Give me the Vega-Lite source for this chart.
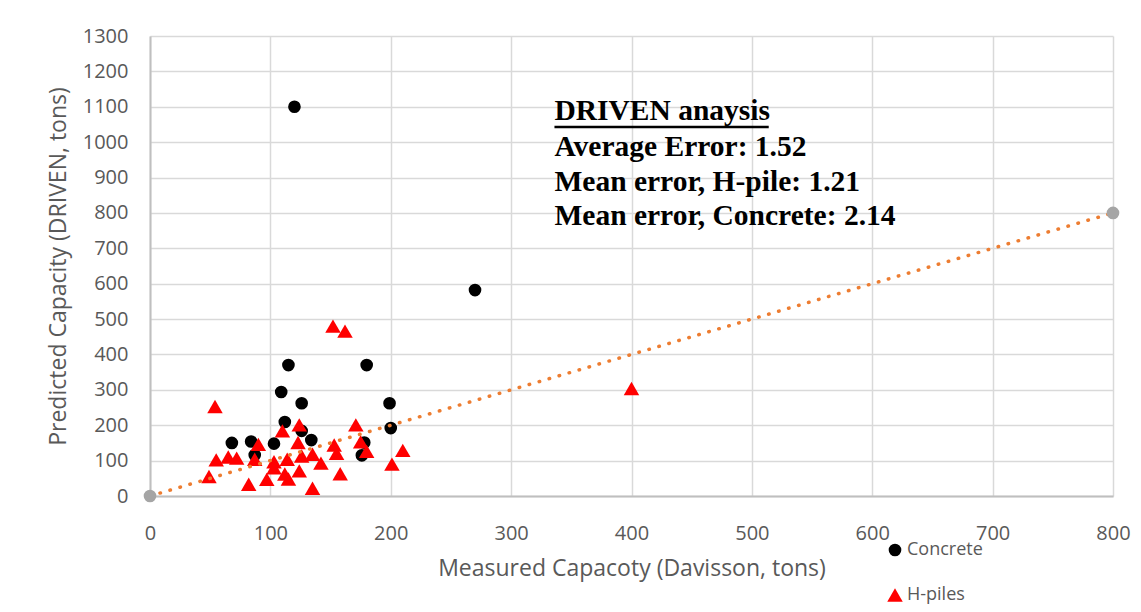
{
  "$schema": "https://vega.github.io/schema/vega-lite/v6.json",
  "width": 963,
  "height": 460,
  "autosize": {"type": "none"},
  "padding": {"left": 150, "top": 36, "right": 28, "bottom": 116},
  "background": "white",
  "config": {
    "view": {"stroke": null},
    "font": "Open Sans",
    "axis": {"labelFont": "Open Sans", "titleFont": "Open Sans", "labelColor": "#595959", "titleColor": "#595959", "labelFontSize": 20, "titleFontSize": 23, "titleFontWeight": "normal", "gridColor": "#d9d9d9", "gridWidth": 1.5, "domainColor": "#bfbfbf", "domainWidth": 2, "ticks": false, "labelOverlap": false, "labelFlush": false, "format": "d"}
  },
  "datasets": {
    "piles": [
      {"measured": 120, "predicted": 1100, "type": "Concrete"},
      {"measured": 270, "predicted": 582, "type": "Concrete"},
      {"measured": 115, "predicted": 370, "type": "Concrete"},
      {"measured": 180, "predicted": 370, "type": "Concrete"},
      {"measured": 109, "predicted": 294, "type": "Concrete"},
      {"measured": 126, "predicted": 262, "type": "Concrete"},
      {"measured": 199, "predicted": 262, "type": "Concrete"},
      {"measured": 112, "predicted": 209, "type": "Concrete"},
      {"measured": 126, "predicted": 184, "type": "Concrete"},
      {"measured": 200, "predicted": 192, "type": "Concrete"},
      {"measured": 68, "predicted": 150, "type": "Concrete"},
      {"measured": 84, "predicted": 154, "type": "Concrete"},
      {"measured": 103, "predicted": 148, "type": "Concrete"},
      {"measured": 134, "predicted": 158, "type": "Concrete"},
      {"measured": 87, "predicted": 116, "type": "Concrete"},
      {"measured": 178, "predicted": 151, "type": "Concrete"},
      {"measured": 176, "predicted": 115, "type": "Concrete"},
      {"measured": 152, "predicted": 480, "type": "H-piles"},
      {"measured": 162, "predicted": 466, "type": "H-piles"},
      {"measured": 54, "predicted": 253, "type": "H-piles"},
      {"measured": 400, "predicted": 304, "type": "H-piles"},
      {"measured": 124, "predicted": 201, "type": "H-piles"},
      {"measured": 110, "predicted": 184, "type": "H-piles"},
      {"measured": 171, "predicted": 201, "type": "H-piles"},
      {"measured": 90, "predicted": 146, "type": "H-piles"},
      {"measured": 123, "predicted": 151, "type": "H-piles"},
      {"measured": 153, "predicted": 144, "type": "H-piles"},
      {"measured": 175, "predicted": 153, "type": "H-piles"},
      {"measured": 180, "predicted": 126, "type": "H-piles"},
      {"measured": 155, "predicted": 121, "type": "H-piles"},
      {"measured": 135, "predicted": 118, "type": "H-piles"},
      {"measured": 126, "predicted": 113, "type": "H-piles"},
      {"measured": 114, "predicted": 104, "type": "H-piles"},
      {"measured": 103, "predicted": 97, "type": "H-piles"},
      {"measured": 87, "predicted": 104, "type": "H-piles"},
      {"measured": 72, "predicted": 107, "type": "H-piles"},
      {"measured": 65, "predicted": 110, "type": "H-piles"},
      {"measured": 55, "predicted": 102, "type": "H-piles"},
      {"measured": 49, "predicted": 55, "type": "H-piles"},
      {"measured": 82, "predicted": 33, "type": "H-piles"},
      {"measured": 97, "predicted": 47, "type": "H-piles"},
      {"measured": 103, "predicted": 80, "type": "H-piles"},
      {"measured": 115, "predicted": 48, "type": "H-piles"},
      {"measured": 112, "predicted": 62, "type": "H-piles"},
      {"measured": 124, "predicted": 71, "type": "H-piles"},
      {"measured": 135, "predicted": 22, "type": "H-piles"},
      {"measured": 142, "predicted": 93, "type": "H-piles"},
      {"measured": 158, "predicted": 63, "type": "H-piles"},
      {"measured": 201, "predicted": 90, "type": "H-piles"},
      {"measured": 210, "predicted": 129, "type": "H-piles"}
    ],
    "oneToOne": [
      {"measured": 0, "predicted": 0},
      {"measured": 800, "predicted": 800}
    ]
  },
  "encoding": {
    "x": {"field": "measured", "type": "quantitative", "scale": {"domain": [0, 800], "nice": false}, "axis": {"title": "Measured Capacoty (Davisson, tons)", "values": [0,100,200,300,400,500,600,700,800], "tickCount": 20, "labelPadding": 27, "titlePadding": 14}},
    "y": {"field": "predicted", "type": "quantitative", "scale": {"domain": [0, 1300], "nice": false}, "axis": {"title": "Predicted Capacity (DRIVEN, tons)", "values": [0,100,200,300,400,500,600,700,800,900,1000,1100,1200,1300], "tickCount": 30, "labelPadding": 22, "titlePadding": 12}}
  },
  "layer": [
    {
      "data": {"name": "piles"},
      "mark": {"type": "point", "filled": true, "opacity": 1},
      "encoding": {
        "color": {"field": "type", "type": "nominal", "scale": {"domain": ["Concrete", "H-piles"], "range": ["#000000", "#ff0000"]}, "legend": {"title": null, "orient": "none", "legendX": 736, "legendY": 505, "labelFont": "Open Sans", "labelFontSize": 18, "labelColor": "#595959", "rowPadding": 27, "symbolSize": 130, "labelOffset": 3}},
        "shape": {"field": "type", "type": "nominal", "scale": {"domain": ["Concrete", "H-piles"], "range": ["circle", "triangle-up"]}},
        "size": {"field": "type", "type": "nominal", "scale": {"domain": ["Concrete", "H-piles"], "range": [160, 240]}, "legend": null},
        "order": {"field": "type", "sort": "ascending"}
      }
    },
    {
      "data": {"name": "oneToOne"},
      "mark": {"type": "line", "color": "#ED7D31", "strokeWidth": 3.5, "strokeDash": [0.5, 9.9], "strokeCap": "round"},
      "encoding": {}
    },
    {
      "data": {"name": "oneToOne"},
      "mark": {"type": "circle", "color": "#a5a5a5", "opacity": 1, "size": 160},
      "encoding": {}
    },
    {
      "data": {"values": [{"measured": 336, "predicted": 1087}]},
      "mark": {"type": "text", "font": "Liberation Serif", "fontWeight": "bold", "fontSize": 29.5, "align": "left", "baseline": "middle", "color": "#000000", "text": "DRIVEN anaysis"},
      "encoding": {}
    },
    {
      "data": {"values": [{"measured": 336, "predicted": 1043, "measured2": 514}]},
      "mark": {"type": "rule", "color": "#000000", "strokeWidth": 2.5},
      "encoding": {"x2": {"field": "measured2"}}
    },
    {
      "data": {"values": [{"measured": 336, "predicted": 985}]},
      "mark": {"type": "text", "font": "Liberation Serif", "fontWeight": "bold", "fontSize": 29.5, "align": "left", "baseline": "middle", "color": "#000000", "text": "Average Error: 1.52"},
      "encoding": {}
    },
    {
      "data": {"values": [{"measured": 336, "predicted": 886}]},
      "mark": {"type": "text", "font": "Liberation Serif", "fontWeight": "bold", "fontSize": 29.5, "align": "left", "baseline": "middle", "color": "#000000", "text": "Mean error, H-pile: 1.21"},
      "encoding": {}
    },
    {
      "data": {"values": [{"measured": 336, "predicted": 790}]},
      "mark": {"type": "text", "font": "Liberation Serif", "fontWeight": "bold", "fontSize": 29.5, "align": "left", "baseline": "middle", "color": "#000000", "text": "Mean error, Concrete: 2.14"},
      "encoding": {}
    }
  ]
}
